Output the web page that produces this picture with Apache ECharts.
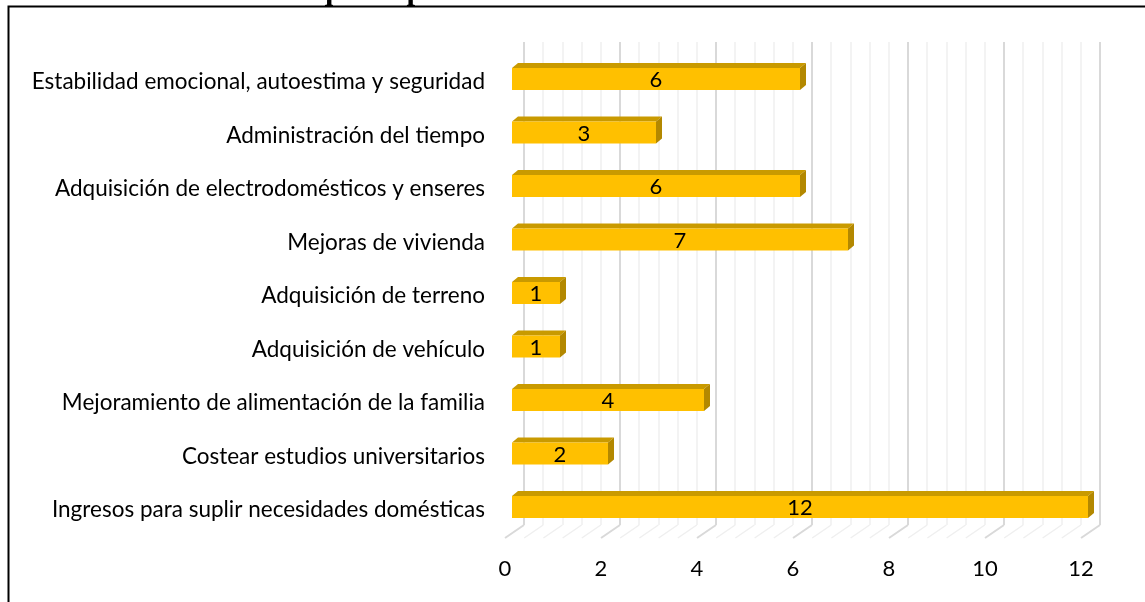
<!DOCTYPE html>
<html>
<head>
<meta charset="utf-8">
<script src="https://cdn.jsdelivr.net/npm/echarts@6/dist/echarts.min.js"></script>
<style>
  html, body { margin: 0; padding: 0; background: #fff; }
  #chart { width: 1145px; height: 602px; }
</style>
</head>
<body>
<div id="chart"></div>
<script>
  // datos
  const categorias = [
    'Estabilidad emocional, autoestima y seguridad',
    'Administración del tiempo',
    'Adquisición de electrodomésticos y enseres',
    'Mejoras de vivienda',
    'Adquisición de terreno',
    'Adquisición de vehículo',
    'Mejoramiento de alimentación de la familia',
    'Costear estudios universitarios',
    'Ingresos para suplir necesidades domésticas'
  ]
  const valores = [6, 3, 6, 7, 1, 1, 4, 2, 12]
  const ejeMin = 0
  const ejeMax = 12
  const ejeIntervalo = 2
  const titulo = 'Resumen de factores que impactan la calidad de vida'

  // lineas del piso (cada division menor del eje)
  const lineasPiso = []
  for (let i = 0; i <= (ejeMax - ejeMin) / ejeIntervalo * 5; i++) {
    lineasPiso.push([ejeMin + i * ejeIntervalo / 5, i % 5 === 0 ? 1 : 0])
  }

  const fuente = 'Lato, "Open Sans", sans-serif'
  const chart = echarts.init(document.getElementById('chart'))

  chart.setOption({
    animation: false,
    graphic: [
      { type: 'rect', shape: { x: 8.5, y: 6.5, width: 1200, height: 700 },
        style: { fill: 'none', stroke: '#000', lineWidth: 2 }, z: 100 },
      { type: 'text', z: 99,
        style: { text: titulo, x: 35, y: 6.5, verticalAlign: 'bottom',
          font: 'bold 31px "Liberation Serif", serif', fill: '#000' } }
    ],
    grid: [
      { left: 512, width: 576, top: 55.25, height: 481.5 },   // barras (cara frontal)
      { left: 524, width: 576, top: 42, height: 483 },        // pared del fondo
      { left: 505, width: 576, top: 55.25, height: 482.75 }   // borde del piso (etiquetas)
    ],
    xAxis: [
      { gridIndex: 0, type: 'value', min: ejeMin, max: ejeMax, interval: ejeIntervalo, show: false },
      { gridIndex: 1, type: 'value', min: ejeMin, max: ejeMax, interval: ejeIntervalo,
        axisLine: { show: false }, axisTick: { show: false }, axisLabel: { show: false },
        splitLine: { show: true, lineStyle: { color: '#d9d9d9', width: 2 } },
        minorTick: { show: false, splitNumber: 5 },
        minorSplitLine: { show: true, lineStyle: { color: '#efefef', width: 1.5 } } },
      { gridIndex: 2, type: 'value', min: ejeMin, max: ejeMax, interval: ejeIntervalo,
        axisLine: { show: false }, axisTick: { show: false }, splitLine: { show: false },
        axisLabel: { margin: 20, color: '#000', fontSize: 22, fontFamily: fuente } }
    ],
    yAxis: [
      { gridIndex: 0, type: 'category', data: categorias, inverse: true,
        axisLine: { show: false }, axisTick: { show: false },
        axisLabel: { margin: 27, color: '#000', fontSize: 22.5, fontFamily: fuente } },
      { gridIndex: 1, type: 'value', min: 0, max: 1, show: false },
      { gridIndex: 2, type: 'value', min: 0, max: 1, show: false }
    ],
    series: [
      {
        type: 'custom',
        xAxisIndex: 1, yAxisIndex: 1,
        data: lineasPiso,
        silent: true,
        z: 1,
        renderItem: function (params, api) {
          const p = api.coord([api.value(0), 0])
          const mayor = api.value(1) === 1
          return {
            type: 'line',
            shape: { x1: p[0], y1: p[1], x2: p[0] - 19, y2: p[1] + 13 },
            style: { stroke: mayor ? '#d9d9d9' : '#efefef', lineWidth: mayor ? 2 : 1.5 }
          }
        }
      },
      {
        type: 'custom',
        xAxisIndex: 0, yAxisIndex: 0,
        data: valores.map((v, i) => [v, i]),
        encode: { x: 0, y: 1 },
        z: 5,
        renderItem: function (params, api) {
          const v = api.value(0)
          const idx = api.value(1)
          const c = api.coord([0, idx])
          const e = api.coord([v, idx])
          const band = api.size([0, 1])[1]
          const h = band * 0.41
          const top = c[1] - band * 0.262
          const dx = 6, dy = 5
          return {
            type: 'group',
            children: [
              { type: 'polygon',
                shape: { points: [[c[0], top], [e[0], top], [e[0] + dx, top - dy], [c[0] + dx, top - dy]] },
                style: { fill: '#c99a00' } },
              { type: 'polygon',
                shape: { points: [[e[0], top], [e[0] + dx, top - dy], [e[0] + dx, top - dy + h], [e[0], top + h]] },
                style: { fill: '#b38800' } },
              { type: 'rect',
                shape: { x: c[0], y: top, width: e[0] - c[0], height: h },
                style: { fill: '#ffc000' } },
              { type: 'text',
                style: { text: String(v), x: (c[0] + e[0]) / 2, y: top + h / 2 + 1,
                  align: 'center', verticalAlign: 'middle',
                  font: '22px ' + fuente, fill: '#000' } }
            ]
          }
        }
      }
    ]
  })
</script>
</body>
</html>
